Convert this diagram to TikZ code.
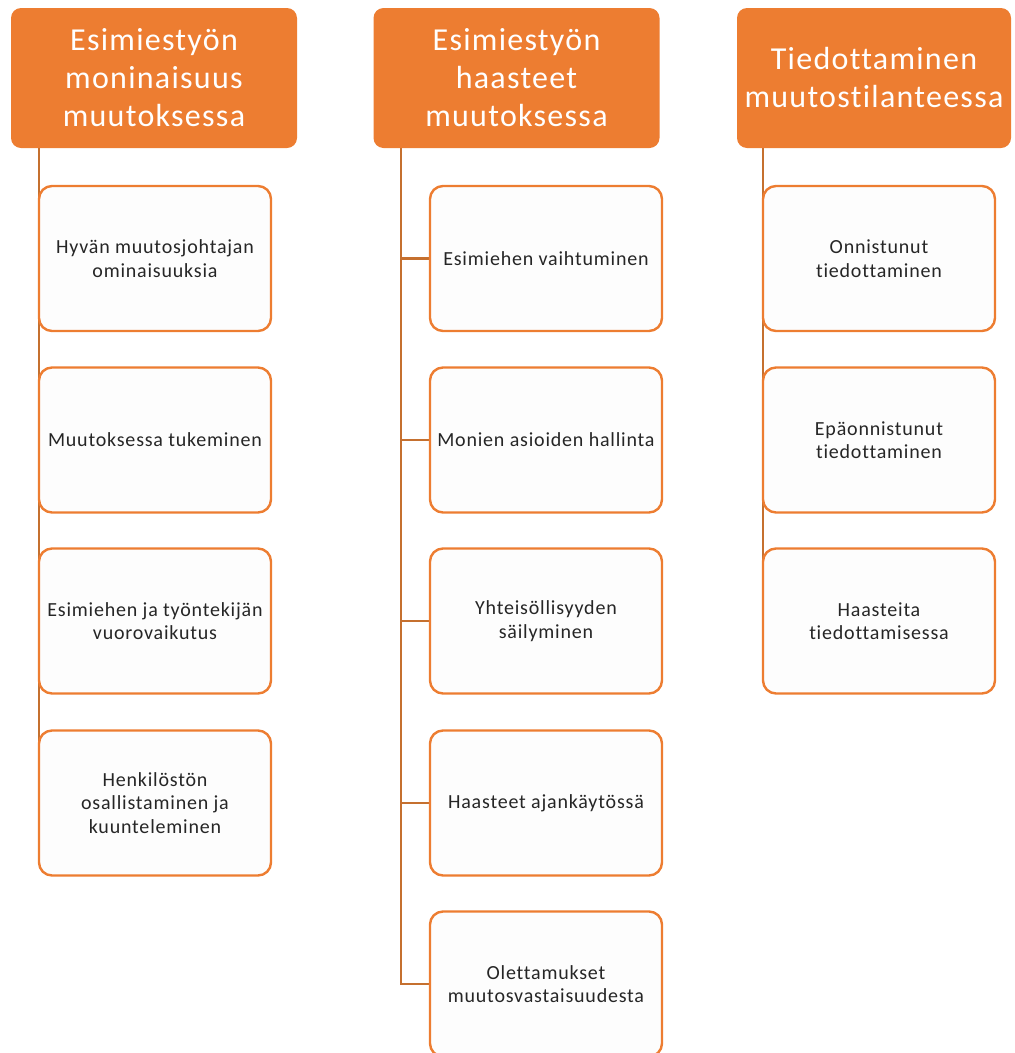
\documentclass[tikz,border=0pt]{standalone}
\usepackage{fontspec}
\setmainfont[Ligatures=NoCommon]{Carlito}
\pgfdeclarelayer{bg}
\pgfsetlayers{bg,main}
\definecolor{accent}{HTML}{ED7D31}
\definecolor{linkline}{HTML}{C5702F}
\definecolor{boxfill}{HTML}{FDFDFD}
\definecolor{txt}{HTML}{262626}
\tikzset{
  x=1pt, y=-1pt,
  header/.style={draw=none, fill=accent, rounded corners=10pt, minimum width=286pt,
    minimum height=140pt, text=white, align=center, inner sep=0pt,
    font=\addfontfeature{LetterSpace=4}\fontsize{32}{38}\selectfont},
  item/.style={draw=accent, line width=2.4pt, fill=boxfill, rounded corners=13pt,
    minimum width=232pt, minimum height=145pt, text=txt, align=center, inner sep=0pt,
    font=\addfontfeature{LetterSpace=4}\fontsize{20}{23.5}\selectfont},
  link/.style={draw=linkline, line width=2.2pt}
}
\begin{document}
\begin{tikzpicture}
\useasboundingbox (0,0) rectangle (1015,1053);

% column headers
\node[header] (h1) at (154,78) {Esimiestyön\\moninaisuus\\muutoksessa};
\node[header] (h2) at (516.5,78) {Esimiestyön\\haasteet\\muutoksessa};
\node[header, minimum width=274pt] (h3) at (874,78) {Tiedottaminen\\muutostilanteessa};

% first column
\node[item] (c11) at (155,258.5) {Hyvän muutosjohtajan\\ominaisuuksia};
\node[item] (c12) at (155,440) {Muutoksessa tukeminen};
\node[item] (c13) at (155,621) {Esimiehen ja työntekijän\\vuorovaikutus};
\node[item] (c14) at (155,803) {Henkilöstön\\osallistaminen ja\\kuunteleminen};

% second column
\node[item] (c21) at (546,258.5) {Esimiehen vaihtuminen};
\node[item] (c22) at (546,440) {Monien asioiden hallinta};
\node[item] (c23) at (546,621) {Yhteisöllisyyden\\säilyminen};
\node[item] (c24) at (546,803) {Haasteet ajankäytössä};
\node[item] (c25) at (546,984) {Olettamukset\\muutosvastaisuudesta};

% third column
\node[item] (c31) at (879,258.5) {Onnistunut\\tiedottaminen};
\node[item] (c32) at (879,440) {Epäonnistunut\\tiedottaminen};
\node[item] (c33) at (879,621) {Haasteita\\tiedottamisessa};

% connectors
\coordinate (t1) at (39,148);
\coordinate (t2) at (401,148);
\coordinate (t3) at (763,148);
\begin{pgfonlayer}{bg}
  \draw[link] (t1) |- (c14.west);
  \foreach \k in {1,2,3} \draw[link] (t1 |- c1\k.west) -- (c1\k.west);
  \draw[link] (t2) |- (c25.west);
  \foreach \k in {1,2,3,4} \draw[link] (t2 |- c2\k.west) -- (c2\k.west);
  \draw[link] (t3) |- (c33.west);
  \foreach \k in {1,2} \draw[link] (t3 |- c3\k.west) -- (c3\k.west);
\end{pgfonlayer}
\end{tikzpicture}
\end{document}
